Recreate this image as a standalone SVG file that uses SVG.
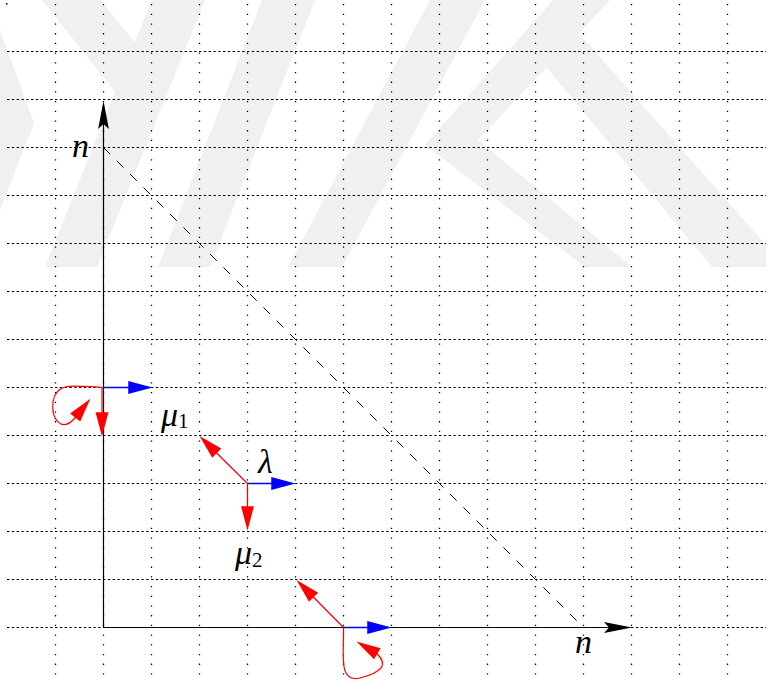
<svg xmlns="http://www.w3.org/2000/svg" width="766" height="682" viewBox="0 0 766 682">
<style>
.wm{fill:#f0f0f0;stroke:none}
.gh{stroke:#000;stroke-width:1;stroke-dasharray:2.4 2.4;fill:none}
.gv{stroke:#000;stroke-width:1.3;stroke-dasharray:1.3 8.4;fill:none}
.ax{stroke:#000;stroke-width:1.2;fill:none}
.dash{stroke:#000;stroke-width:1;stroke-dasharray:9.4 9.45;fill:none}
.red{stroke:#ff0000;stroke-width:1.2;fill:none}
.blue{stroke:#0000ff;stroke-width:1.3;fill:none}
.lbl{font-family:"Liberation Serif","DejaVu Serif",serif;font-style:italic;fill:#000}
.sub{font-family:"Liberation Serif","DejaVu Serif",serif;font-style:normal;fill:#000}
</style>
<defs>
<marker id="hr" markerUnits="userSpaceOnUse" markerWidth="30" markerHeight="20" viewBox="-20 -8 26 16" refX="0" refY="0" orient="auto">
<path d="M3,0 L-18,-5.6 L-18,5.6 Z" fill="#ff0000"/>
</marker>
<marker id="hb" markerUnits="userSpaceOnUse" markerWidth="30" markerHeight="20" viewBox="-20 -8 26 16" refX="0" refY="0" orient="auto">
<path d="M3,0 L-18,-5.6 L-18,5.6 Z" fill="#0000ff"/>
</marker>
<marker id="hk" markerUnits="userSpaceOnUse" markerWidth="34" markerHeight="20" viewBox="-28 -8 34 16" refX="0" refY="0" orient="auto">
<path d="M3,0 L-25,-5.4 L-20,0 L-25,5.4 Z" fill="#000"/>
</marker>
</defs>
<g id="watermark">
<polygon class="wm" points="0,30 34,123 0,210"/>
<polygon class="wm" points="42,0 100,0 158,70 128,108"/>
<polygon class="wm" points="152,0 205,0 97,267 45,267"/>
<polygon class="wm" points="262,0 315,0 210,267 158,267"/>
<polygon class="wm" points="430,0 485,0 342,267 288,267"/>
<polygon class="wm" points="553,0 610,0 478,140 632,267 585,267 425,145"/>
<polygon class="wm" points="528,45 560,12 766,245 766,267 712,267"/>
</g>
<g id="grid">
<rect x="6" y="3" width="1.5" height="1.5" fill="#000"/>
<path class="gh" d="M7,51.5H766M7,99.5H766M7,147.5H766M7,195.5H766M7,243.5H766M7,291.5H766M7,339.5H766M7,387.5H766M7,435.5H766M7,483.5H766M7,531.5H766M7,579.5H766M7,627.5H766"/>
<path class="gv" d="M55.5,4V678M103.5,4V678M151.5,4V678M199.5,4V678M247.5,4V678M295.5,4V678M343.5,4V678M391.5,4V678M439.5,4V678M487.5,4V678M535.5,4V678M583.5,4V678M631.5,4V678M679.5,4V678M727.5,4V678"/>
</g>
<g id="axes">
<path class="ax" d="M103.5,628 V104" marker-end="url(#hk)"/>
<path class="ax" d="M103,627.5 H629" marker-end="url(#hk)"/>
<path class="dash" d="M103.5,147.5 L583.5,627.5"/>
</g>
<g id="connectors">
<path class="blue" d="M103.5,387.5 H149" marker-end="url(#hb)"/>
<path class="blue" d="M247.5,483.5 H292" marker-end="url(#hb)"/>
<path class="blue" d="M343.5,627.5 H388" marker-end="url(#hb)"/>
<path class="red" d="M102,387.5 V433" marker-end="url(#hr)"/>
<path class="red" d="M247.5,483.5 V527" marker-end="url(#hr)"/>
<path class="red" d="M247.5,483.5 L202,438.5" marker-end="url(#hr)"/>
<path class="red" d="M343.5,627.5 L299,582.5" marker-end="url(#hr)"/>
<path class="red" d="M103,387.5 C75,386 56,381 53,402 C51,420 62,432 74,419 L88.2,401.4" marker-end="url(#hr)"/>
<path class="red" d="M343.5,628 C344,655 338,683 360,678 C380,673 390,665 376,653 L359.5,643.2" marker-end="url(#hr)"/>
</g>
<g id="labels">
<text class="lbl" x="72" y="157" font-size="34">n</text>
<text class="lbl" x="575" y="653" font-size="34">n</text>
<text class="lbl" x="258" y="473" font-size="34">λ</text>
<text class="lbl" x="161" y="426" font-size="34">μ<tspan class="sub" font-size="21" dy="2">1</tspan></text>
<text class="lbl" x="235" y="564" font-size="34">μ<tspan class="sub" font-size="21" dy="3">2</tspan></text>
</g>
</svg>
